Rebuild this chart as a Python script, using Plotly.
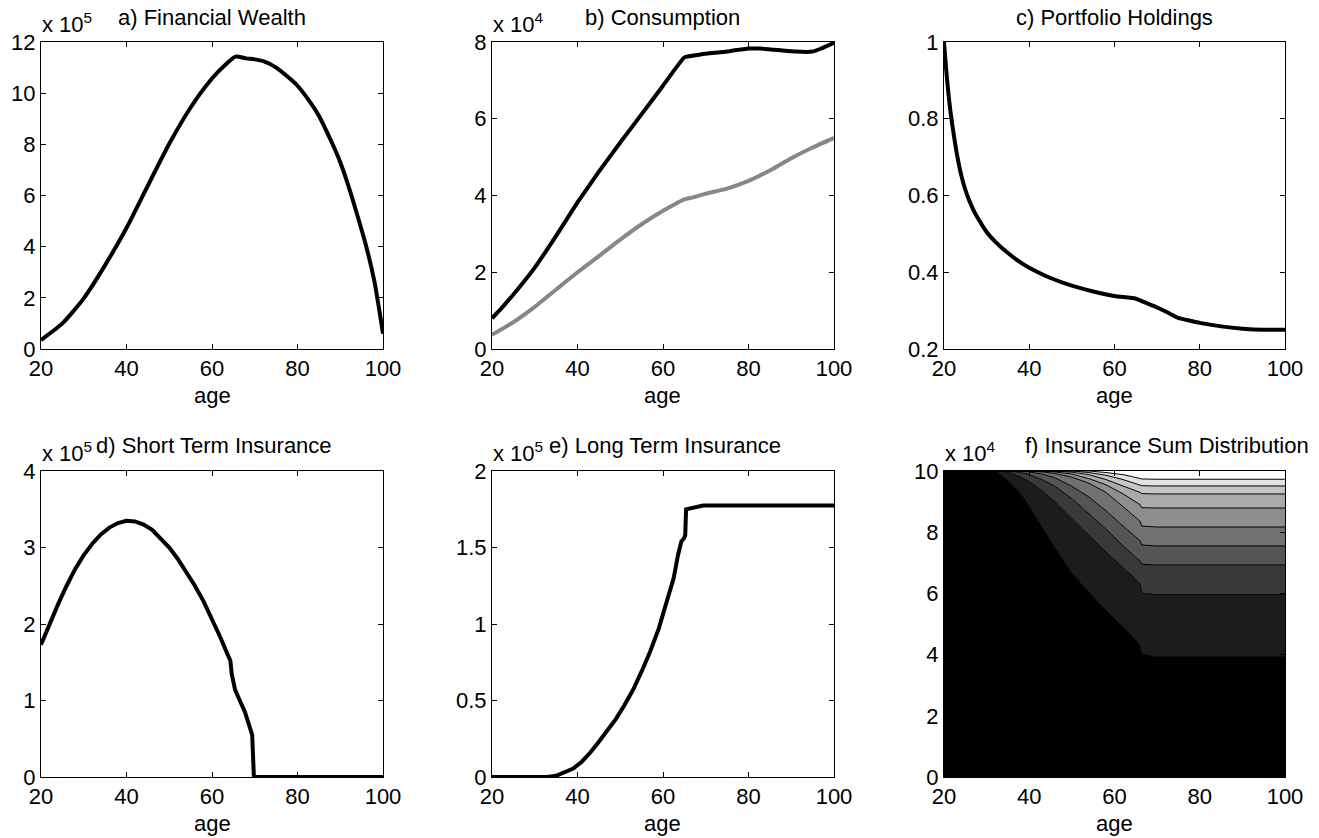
import plotly.graph_objects as go

W, H = 1319, 838

# ---------------- data ----------------
# a) Financial wealth (x 1e5)
age_a = [20, 25, 30, 35, 40, 45, 50, 55, 60, 63, 65.5, 68, 70, 72, 75, 78, 80, 83, 85, 88, 90, 92, 94, 96, 98, 100]
wealth = [0.35, 1.0, 1.98, 3.28, 4.73, 6.39, 8.02, 9.44, 10.57, 11.09, 11.43, 11.36, 11.32, 11.25, 11.0, 10.6,
          10.29, 9.64, 9.12, 8.08, 7.3, 6.33, 5.23, 4.06, 2.63, 0.6]

# b) Consumption (x 1e4)
age_b1 = [20, 22.5, 25, 27.5, 30, 35, 40, 45, 50, 55, 60, 65, 69, 74, 80, 82.5, 87, 91, 95, 97, 100]
cons_high = [0.8, 1.1, 1.42, 1.76, 2.12, 2.95, 3.82, 4.62, 5.38, 6.12, 6.86, 7.6, 7.68, 7.74, 7.83, 7.83, 7.79,
             7.75, 7.75, 7.83, 7.98]
age_b2 = [20, 25, 30, 35, 40, 45, 50, 55, 60, 65, 67, 70, 75, 80, 85, 90, 95, 100]
cons_low = [0.37, 0.7, 1.1, 1.55, 2.0, 2.42, 2.85, 3.25, 3.6, 3.9, 3.95, 4.05, 4.18, 4.38, 4.65, 4.97, 5.25, 5.5]

# c) Portfolio holdings
age_c = [20, 20.5, 21, 21.5, 22, 23, 24, 25, 26, 27, 28, 30, 32, 35, 38, 40, 45, 50, 55, 60, 65, 67, 70, 73, 75,
         78, 80, 85, 90, 95, 100]
stock_share = [1.0, 0.93, 0.87, 0.82, 0.78, 0.71, 0.655, 0.615, 0.585, 0.56, 0.54, 0.505, 0.48, 0.45, 0.425, 0.412,
               0.385, 0.365, 0.35, 0.338, 0.331, 0.322, 0.308, 0.292, 0.281, 0.273, 0.268, 0.259, 0.253, 0.25, 0.25]

# d) Short term insurance (x 1e5)
age_d = [20, 22, 24, 26, 28, 30, 32, 34, 36, 38, 40, 42, 44, 46, 48, 50, 52, 54, 56, 58, 60, 62, 63.5, 64.3, 64.6,
         65.4, 66.5, 67.7, 69.4, 69.8, 80, 90, 100]
short_ins = [1.73, 2.0, 2.26, 2.5, 2.72, 2.9, 3.05, 3.17, 3.26, 3.32, 3.35, 3.34, 3.3, 3.23, 3.12, 3.0, 2.85, 2.68,
             2.5, 2.3, 2.07, 1.82, 1.62, 1.52, 1.35, 1.14, 1.0, 0.85, 0.55, 0.0, 0.0, 0.0, 0.0]

# e) Long term insurance (x 1e5)
age_e = [20, 30, 33, 35, 37, 39, 41, 43, 45, 47, 49, 51, 53, 55, 57, 59, 61, 62.5, 63.5, 64.3, 64.9, 65.2, 65.4,
         66.8, 68.7, 69.4, 80, 90, 100]
long_ins = [0.0, 0.0, 0.0, 0.008, 0.03, 0.055, 0.1, 0.16, 0.23, 0.3, 0.38, 0.47, 0.57, 0.69, 0.82, 0.97, 1.15, 1.3,
            1.45, 1.54, 1.56, 1.58, 1.75, 1.76, 1.77, 1.775, 1.775, 1.775, 1.775]

# f) Insurance sum distribution (x 1e4): contour boundaries
age_f = [20, 32, 35, 38, 40, 43, 46, 50, 54, 58, 62, 64, 65.5, 66, 66.4, 70, 100]
bound_1 = [10, 10, 9.7, 9.25, 8.85, 8.15, 7.5, 6.65, 6.05, 5.45, 4.9, 4.62, 4.4, 4.3, 4.02, 3.92, 3.92]
bound_2 = [10, 10, 9.97, 9.8, 9.65, 9.35, 9.0, 8.45, 7.9, 7.35, 6.85, 6.6, 6.4, 6.32, 6.0, 5.96, 5.96]
bound_3 = [10, 10, 10, 9.95, 9.88, 9.72, 9.5, 9.1, 8.6, 8.1, 7.55, 7.3, 7.12, 7.06, 6.95, 6.93, 6.93]
bound_4 = [10, 10, 10, 10, 9.97, 9.9, 9.78, 9.5, 9.15, 8.7, 8.2, 7.95, 7.78, 7.72, 7.58, 7.55, 7.55]
bound_5 = [10, 10, 10, 10, 10, 9.97, 9.92, 9.8, 9.6, 9.3, 8.85, 8.6, 8.42, 8.36, 8.2, 8.17, 8.17]
bound_6 = [10, 10, 10, 10, 10, 10, 9.97, 9.9, 9.75, 9.55, 9.25, 9.07, 8.95, 8.9, 8.8, 8.79, 8.79]
bound_7 = [10, 10, 10, 10, 10, 10, 10, 9.96, 9.88, 9.72, 9.52, 9.41, 9.33, 9.3, 9.26, 9.25, 9.25]
bound_8 = [10, 10, 10, 10, 10, 10, 10, 10, 9.95, 9.86, 9.72, 9.64, 9.58, 9.56, 9.52, 9.51, 9.51]
bound_9 = [10, 10, 10, 10, 10, 10, 10, 10, 10, 9.95, 9.88, 9.82, 9.78, 9.77, 9.74, 9.73, 9.73]
age_top = [20, 100]
top_edge = [10, 10]
band_colors = ['#000000', '#1c1c1c', '#393939', '#555555', '#717171', '#8e8e8e', '#aaaaaa', '#c6c6c6', '#e3e3e3',
               '#ffffff']

titles = ['a) Financial Wealth', 'b) Consumption', 'c) Portfolio Holdings',
          'd) Short Term Insurance', 'e) Long Term Insurance', 'f) Insurance Sum Distribution']
exponents = ['x 10<sup>5</sup>', 'x 10<sup>4</sup>', None, 'x 10<sup>5</sup>', 'x 10<sup>5</sup>', 'x 10<sup>4</sup>']
x_ticks = [20, 40, 60, 80, 100]
y_ticks = [
    [0, 2, 4, 6, 8, 10, 12],
    [0, 2, 4, 6, 8],
    [0.2, 0.4, 0.6, 0.8, 1],
    [0, 1, 2, 3, 4],
    [0, 0.5, 1, 1.5, 2],
    [0, 2, 4, 6, 8, 10],
]
y_tick_text = [
    ['0', '2', '4', '6', '8', '10', '12'],
    ['0', '2', '4', '6', '8'],
    ['0.2', '0.4', '0.6', '0.8', '1'],
    ['0', '1', '2', '3', '4'],
    ['0', '0.5', '1', '1.5', '2'],
    ['0', '2', '4', '6', '8', '10'],
]
y_ranges = [[0, 12], [0, 8], [0.2, 1], [0, 4], [0, 2], [0, 10]]

# ---------------- layout geometry (pixels) ----------------
cols = [(41, 383), (492, 834), (944, 1285)]
rows = [(42, 349), (471, 777)]
title_pos = [(212, 17), (663, 17), (1114, 17), (214, 446), (665, 446), (1167, 446)]

FONT = 'Liberation Sans, Arial, Helvetica, sans-serif'
FS = 22


def fx(p):
    return p / W


def fy(p):
    return 1 - p / H


fig = go.Figure()

LW = 4
# a
fig.add_trace(go.Scatter(x=age_a, y=wealth, mode='lines',
                         line=dict(color='black', width=LW, shape='spline', smoothing=0.6),
                         xaxis='x', yaxis='y', showlegend=False))
# b
fig.add_trace(go.Scatter(x=age_b2, y=cons_low, mode='lines',
                         line=dict(color='#878787', width=LW, shape='spline', smoothing=0.5),
                         xaxis='x2', yaxis='y2', showlegend=False))
fig.add_trace(go.Scatter(x=age_b1, y=cons_high, mode='lines',
                         line=dict(color='black', width=LW, shape='spline', smoothing=0.3),
                         xaxis='x2', yaxis='y2', showlegend=False))
# c
fig.add_trace(go.Scatter(x=age_c, y=stock_share, mode='lines',
                         line=dict(color='black', width=LW, shape='spline', smoothing=0.6),
                         xaxis='x3', yaxis='y3', showlegend=False))
# d
fig.add_trace(go.Scatter(x=age_d, y=short_ins, mode='lines', line=dict(color='black', width=LW),
                         xaxis='x4', yaxis='y4', showlegend=False))
# e
fig.add_trace(go.Scatter(x=age_e, y=long_ins, mode='lines', line=dict(color='black', width=LW),
                         xaxis='x5', yaxis='y5', showlegend=False))
# f: filled contour bands
bounds = [bound_1, bound_2, bound_3, bound_4, bound_5, bound_6, bound_7, bound_8, bound_9]
for i, b in enumerate(bounds):
    fig.add_trace(go.Scatter(x=age_f, y=b, mode='lines',
                             line=dict(color='black', width=1),
                             fill='tozeroy' if i == 0 else 'tonexty',
                             fillcolor=band_colors[i],
                             xaxis='x6', yaxis='y6', showlegend=False))
fig.add_trace(go.Scatter(x=age_top, y=top_edge, mode='lines', line=dict(color='black', width=0),
                         fill='tonexty', fillcolor=band_colors[9],
                         xaxis='x6', yaxis='y6', showlegend=False))

layout = dict(
    template='none',
    width=W, height=H, autosize=False,
    margin=dict(l=0, r=0, t=0, b=0, pad=0, autoexpand=False),
    paper_bgcolor='white', plot_bgcolor='white',
    font=dict(family=FONT, size=FS, color='black'),
    showlegend=False,
)

annotations = []
for k in range(6):
    r, c = divmod(k, 3)
    x0, x1 = cols[c]
    y0, y1 = rows[r]
    sx = '' if k == 0 else str(k + 1)
    axis_common = dict(showgrid=False, zeroline=False, showline=True, linecolor='black', linewidth=1.1,
                       mirror='ticks', ticks='inside', ticklen=5, tickwidth=1.1, tickcolor='black',
                       automargin=False,
                       tickfont=dict(family=FONT, size=FS, color='black'))
    layout['xaxis' + sx] = dict(domain=[fx(x0), fx(x1)], anchor='y' + sx, range=[20, 100],
                                tickvals=x_ticks, ticktext=[str(v) for v in x_ticks], **axis_common)
    layout['yaxis' + sx] = dict(domain=[fy(y1), fy(y0)], anchor='x' + sx, range=y_ranges[k],
                                tickvals=y_ticks[k], ticktext=y_tick_text[k], **axis_common)
    tx, ty = title_pos[k]
    annotations.append(dict(text=titles[k], x=fx(tx), y=fy(ty), xref='paper', yref='paper',
                            xanchor='center', yanchor='middle', showarrow=False,
                            font=dict(family=FONT, size=FS, color='black')))
    if exponents[k]:
        annotations.append(dict(text=exponents[k], x=fx(x0 - 1), y=fy(y0 - 19), xref='paper', yref='paper',
                                xanchor='left', yanchor='middle', showarrow=False,
                                font=dict(family=FONT, size=FS, color='black')))
    annotations.append(dict(text='age', x=fx((x0 + x1) / 2), y=fy(y1 + 46), xref='paper', yref='paper',
                            xanchor='center', yanchor='middle', showarrow=False,
                            font=dict(family=FONT, size=FS, color='black')))

layout['annotations'] = annotations
fig.update_layout(**layout)
fig.write_html('out.html')
